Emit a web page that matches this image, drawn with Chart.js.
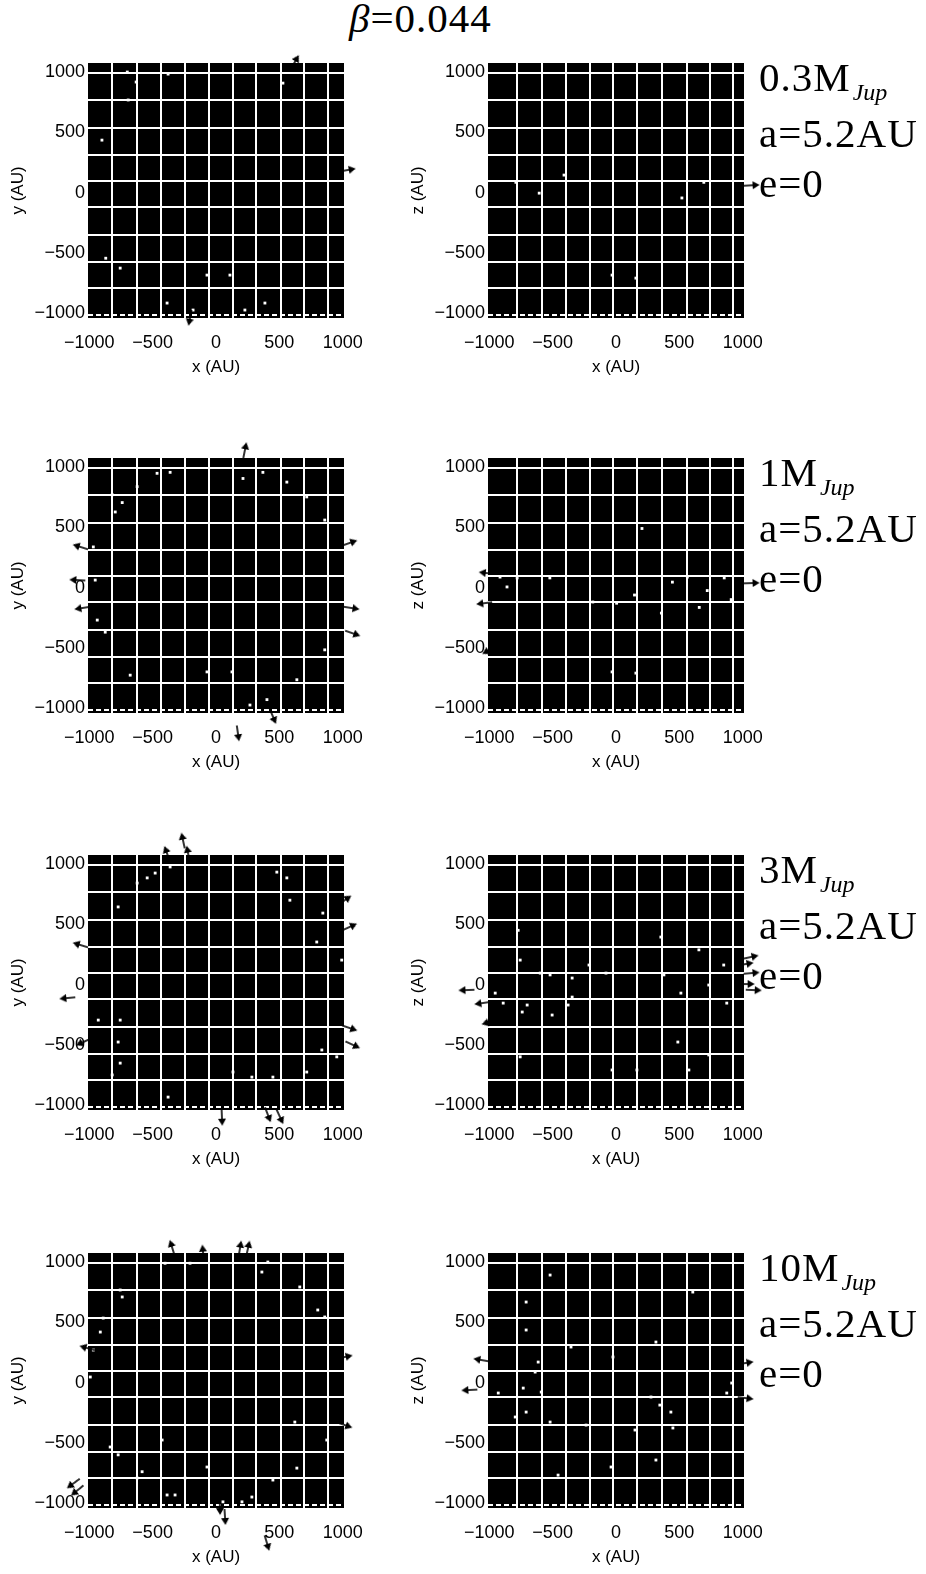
<!DOCTYPE html>
<html>
<head>
<meta charset="utf-8">
<script src="https://cdn.jsdelivr.net/npm/chart.js@4.4.0/dist/chart.umd.min.js"></script>
<style>
  body { margin: 0; background: #fff; width: 926px; height: 1574px; position: relative; overflow: hidden; }
  canvas { position: absolute; }
  .lbl { position: absolute; font-family: "Liberation Serif", serif; font-size: 41px; letter-spacing: 1px; line-height: 50px; color: #000; white-space: nowrap; }
  .sub { font-style: italic; font-size: 24px; position: relative; top: 9px; margin-left: 2px; letter-spacing: 0; }
</style>
</head>
<body>
<script>
const xTicks = [-1000, -500, 0, 500, 1000];
const yTicks = [-1000, -500, 0, 500, 1000];
const gridXLeft = [-821, -624, -434, -245, -55, 134, 316, 513, 694, 884];
const gridXRight = [-781, -584, -395, -205, -24, 166, 363, 560, 742, 923];
const gridY = [994, 768, 539, 315, 95, -124, -353, -577, -793];
const dashY = [-1017];
const masses = ["0.3", "1", "3", "10"];
const semiMajor = "5.2";
const ecc = "0";
const beta = "0.044";

// white specks inside the box and grains leaving it (AU)
const xyDots1 = [[-700,1000],[-630,917],[-378,983],[-693,768],[-900,435],[-870,-545],[-756,-627],[-386,-917],[-181,-975],[228,-975],[386,-917],[-71,-685],[110,-685],[528,908]];
const xyOut1 = [[622,1083],[1040,187],[-205,-1040]];
const xzDots1 = [[-790,85],[-606,-5],[-410,145],[693,85],[520,-45],[-31,-685],[157,-710]];
const xzOut1 = [[1070,60]];

const xyDots2 = [[-465,948],[-362,956],[213,905],[370,956],[-622,837],[-819,770],[-740,705],[-795,627],[559,875],[716,752],[858,560],[-968,337],[-953,62],[-937,-270],[-874,-370],[-677,-727],[-71,-700],[126,-700],[268,-975],[402,-930],[638,-765],[858,-517]];
const xyOut2 = [[228,1140],[173,-1210],[1055,370],[1070,-170],[1079,-380],[-1070,337],[-1094,62],[-1055,-170],[449,-1070]];
const xzDots2 = [[205,490],[-915,87],[-780,80],[-860,5],[-522,80],[-183,-120],[5,-130],[146,-62],[358,-212],[445,45],[563,87],[657,-165],[720,-25],[854,80],[909,-100],[-31,-700],[157,-710]];
const xzOut2 = [[1070,37],[-1040,-130],[-1000,-520],[-1020,120]];

const xyDots3 = [[-362,976],[-480,925],[-543,885],[-622,842],[-772,644],[480,933],[559,885],[583,700],[843,593],[795,353],[992,203],[-929,-295],[-756,-295],[-772,-477],[-756,-652],[-819,-750],[-378,-934],[134,-726],[283,-768],[449,-768],[716,-726],[835,-543],[953,-600]];
const xyOut3 = [[-260,1195],[-220,1087],[-386,1087],[-1070,328],[-1173,-112],[-1047,-477],[1055,478],[1016,700],[1079,-500],[1055,-361],[47,-1105],[504,-1097],[409,-1080]];
const xzDots3 = [[-772,450],[-756,203],[-598,95],[-520,80],[-346,54],[-346,-104],[-378,-170],[-504,-253],[-701,-170],[-740,-228],[-890,-154],[-953,-71],[-213,162],[-79,95],[354,394],[378,80],[654,288],[850,162],[732,-4],[512,-71],[874,-154],[488,-477],[732,-584],[575,-709],[-31,-709],[165,-709],[-756,-600]];
const xzOut3 = [[-1180,-46],[-1055,-154],[-1000,-311],[1063,228],[1070,95],[1087,-46],[1023,170],[1031,4]];

const xyDots4 = [[-402,990],[-205,990],[362,917],[409,1000],[661,793],[803,602],[858,544],[-740,710],[-756,768],[-890,535],[-913,419],[-968,270],[-992,46],[-835,-535],[-772,-600],[-583,-740],[-622,-792],[-425,-477],[-244,-792],[-71,-701],[-386,-933],[-323,-933],[55,-990],[205,-990],[283,-950],[622,-328],[638,-710],[449,-809],[874,-477]];
const xyOut4 = [[-346,1120],[-102,1078],[189,1112],[252,1112],[31,-1033],[71,-1116],[402,-1332],[-1126,-838],[-1095,-896],[1016,212],[1016,-353],[-1016,286]];
const xzDots4 = [[-520,892],[-709,668],[-709,436],[-355,295],[-24,212],[315,336],[606,751],[-614,170],[-638,87],[-929,-87],[-732,-46],[-590,-79],[-709,-245],[-795,-286],[-520,-328],[-236,-353],[150,-394],[276,-120],[346,-187],[433,-245],[449,-377],[315,-643],[-39,-701],[-457,-768],[874,-87],[913,-4]];
const xzOut4 = [[-1157,-62],[-1063,187],[1023,162],[1023,-129]];

const rows = [
    [xyDots1, xyOut1, xzDots1, xzOut1],
    [xyDots2, xyOut2, xzDots2, xzOut2],
    [xyDots3, xyOut3, xzDots3, xzOut3],
    [xyDots4, xyOut4, xzDots4, xzOut4]
];

const rowTops = [63, 458, 855, 1253];
const tickFont = { family: "Liberation Sans", size: 18 };
const titleFont = { family: "Liberation Sans", size: 17 };
const fmt = v => String(v).replace("-", "\u2212");

// little arrow marker (points up, rotated per grain)
const arrow = document.createElement("canvas");
arrow.width = 8;
arrow.height = 16;
(function () {
    const c = arrow.getContext("2d");
    c.strokeStyle = "#000";
    c.fillStyle = "#000";
    c.lineWidth = 1.6;
    c.beginPath();
    c.moveTo(4, 16);
    c.lineTo(4, 5);
    c.stroke();
    c.beginPath();
    c.moveTo(0, 7);
    c.lineTo(4, 0);
    c.lineTo(8, 7);
    c.closePath();
    c.fill();
})();

// black plot area
const blackBox = {
    id: "blackBox",
    beforeDraw(chart) {
        const { ctx, chartArea: a } = chart;
        ctx.save();
        ctx.fillStyle = "#000";
        ctx.fillRect(a.left, a.top, a.right - a.left, a.bottom - a.top);
        ctx.restore();
    }
};

// let the grains outside the box be drawn too
const wideArea = {
    id: "wideArea",
    beforeDatasetsDraw(chart) {
        chart._boxArea = chart.chartArea;
        chart.chartArea = { left: 0, top: 0, right: chart.width, bottom: chart.height, width: chart.width, height: chart.height };
    },
    afterDatasetsDraw(chart) {
        chart.chartArea = chart._boxArea;
    }
};

function pts(dots, out) {
    return dots.map(([x, y]) => ({ x, y, out: false }))
        .concat(out.map(([x, y]) => ({ x, y, out: true })));
}

function gridAxis(pos, vals, dash) {
    return {
        type: "linear",
        position: pos,
        min: pos === "bottom" ? -1010 : -1041,
        max: pos === "bottom" ? 1010 : 1075,
        afterBuildTicks: s => { s.ticks = vals.map(v => ({ value: v })); },
        afterFit: s => { if (pos === "bottom") s.height = 0; else s.width = 0; },
        ticks: { display: false },
        grid: { color: "#fff", lineWidth: 2, drawTicks: false },
        border: { display: false, dash: dash || [] }
    };
}

function panel(left, top, dots, out, gridX, yName) {
    const cv = document.createElement("canvas");
    cv.width = 380;
    cv.height = 345;
    cv.style.left = left + "px";
    cv.style.top = top + "px";
    document.body.appendChild(cv);

    new Chart(cv.getContext("2d"), {
        type: "scatter",
        data: {
            datasets: [{
                data: pts(dots, out),
                clip: false,
                pointStyle: c => (c.raw && c.raw.out) ? arrow : "rect",
                pointRadius: c => (c.raw && c.raw.out) ? 6 : 2,
                pointRotation: c => (c.raw && c.raw.out) ? 90 - Math.atan2(c.raw.y, c.raw.x) * 180 / Math.PI : 0,
                backgroundColor: "#fff",
                borderWidth: 0
            }]
        },
        options: {
            responsive: false,
            animation: false,
            events: [],
            layout: { padding: { top: 30, right: 36, left: 0, bottom: 0 } },
            plugins: { legend: { display: false }, tooltip: { enabled: false } },
            scales: {
                x: {
                    type: "linear",
                    position: "bottom",
                    min: -1010,
                    max: 1010,
                    afterBuildTicks: s => { s.ticks = xTicks.map(v => ({ value: v })); },
                    afterFit: s => { s.height = 60; },
                    grid: { display: false, drawTicks: false },
                    border: { display: false },
                    ticks: { color: "#000", font: tickFont, padding: 14, maxRotation: 0, autoSkip: false, callback: fmt },
                    title: { display: true, text: "x (AU)", color: "#000", font: titleFont, padding: { top: 4, bottom: 0 } }
                },
                xg: gridAxis("bottom", gridX),
                y: {
                    type: "linear",
                    position: "left",
                    min: -1041,
                    max: 1075,
                    afterBuildTicks: s => { s.ticks = yTicks.map(v => ({ value: v })); },
                    afterFit: s => { s.width = 88; },
                    grid: { display: false, drawTicks: false },
                    border: { display: false },
                    ticks: { color: "#000", font: tickFont, padding: 3, autoSkip: false, callback: fmt },
                    title: { display: true, text: yName + " (AU)", color: "#000", font: titleFont, padding: { top: 8, bottom: 0 } }
                },
                yg: gridAxis("left", gridY),
                yd: gridAxis("left", dashY, [5, 3])
            }
        },
        plugins: [blackBox, wideArea]
    });
}

function text(html, left, top, cls) {
    const d = document.createElement("div");
    d.className = cls || "lbl";
    d.innerHTML = html;
    d.style.left = left + "px";
    d.style.top = top + "px";
    document.body.appendChild(d);
}

text("<i>\u03b2</i>=" + beta, 349, -7);

rows.forEach(([xyD, xyO, xzD, xzO], i) => {
    const top = rowTops[i];
    panel(0, top - 30, xyD, xyO, gridXLeft, "y");
    panel(400, top - 30, xzD, xzO, gridXRight, "z");
    text(masses[i] + "M<span class=\"sub\">Jup</span><br>a=" + semiMajor + "AU<br>e=" + ecc, 759, top - 11);
});
</script>
</body>
</html>
